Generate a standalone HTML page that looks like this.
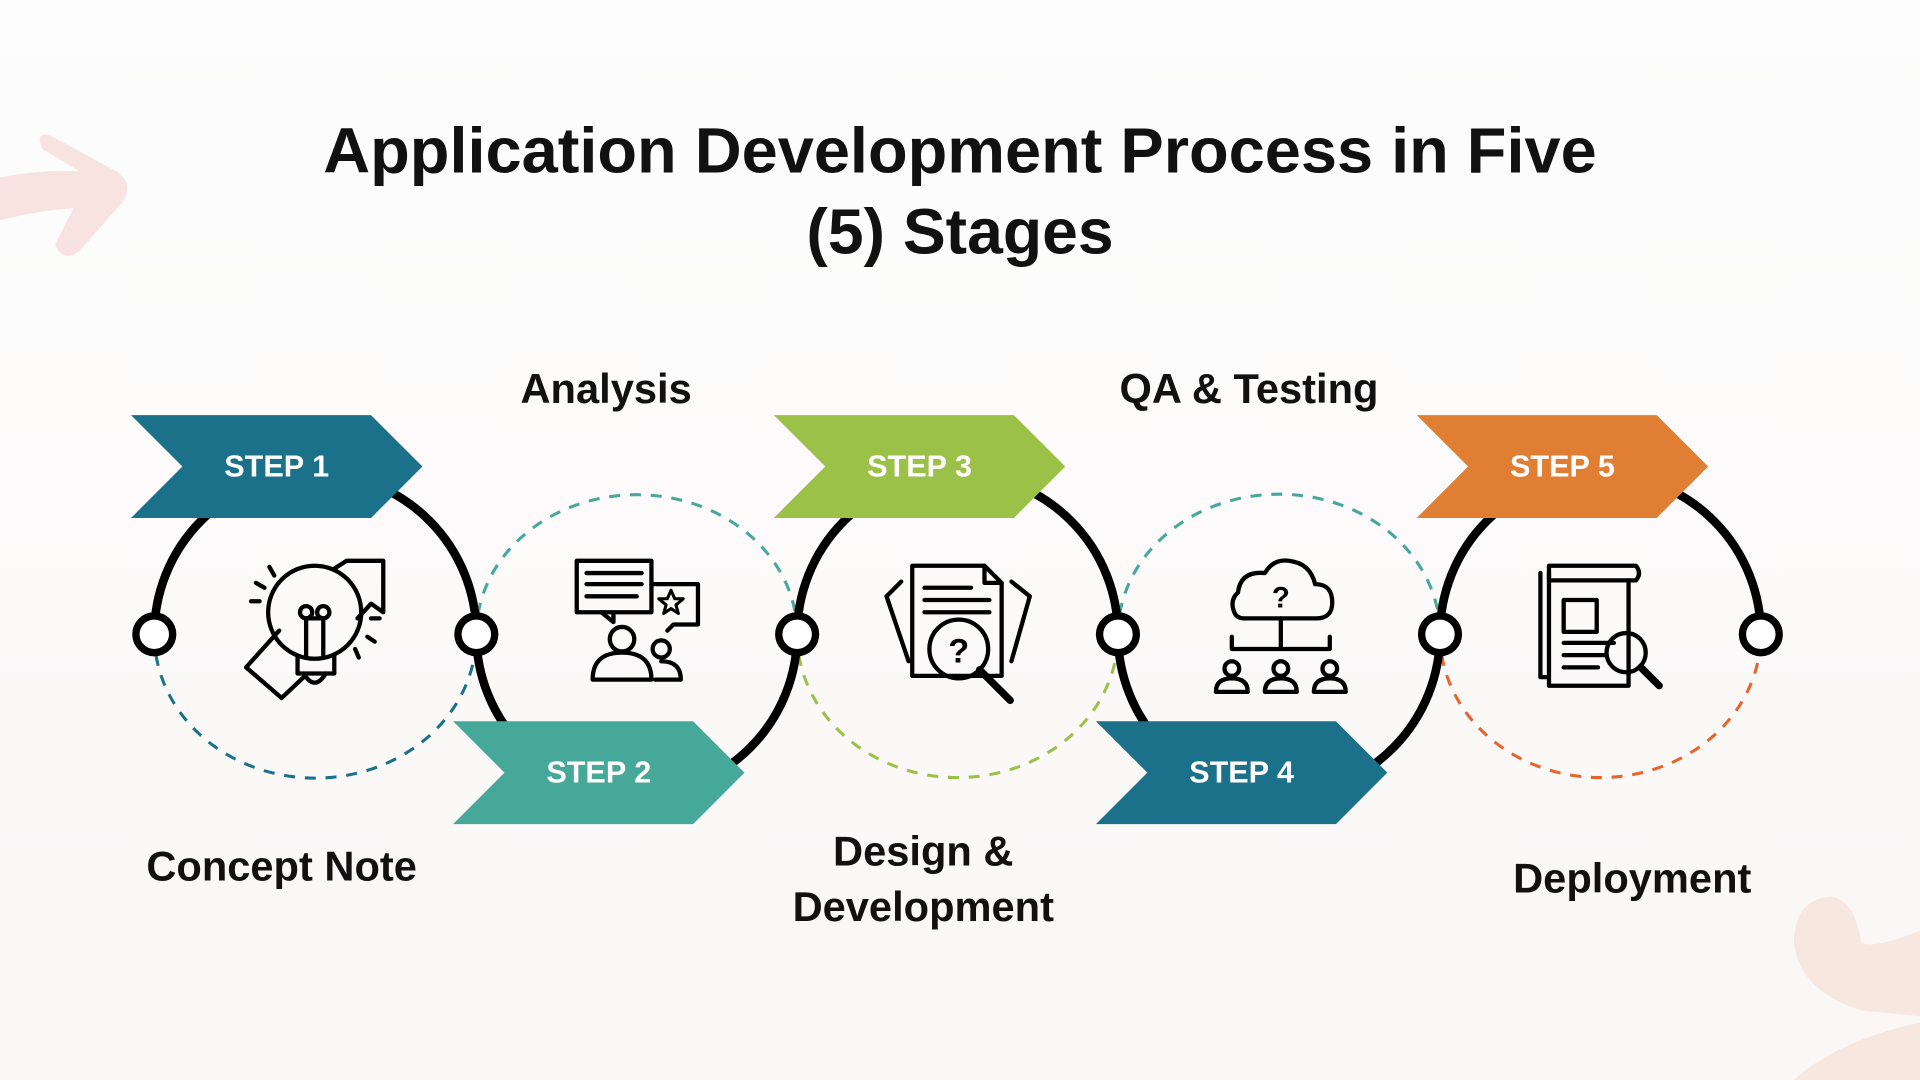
<!DOCTYPE html>
<html><head><meta charset="utf-8"><style>
html,body{margin:0;padding:0;width:1920px;height:1080px;overflow:hidden;background:#fcfbfb}
svg{display:block}
text{font-family:"Liberation Sans",Arial,sans-serif;font-weight:bold}
</style></head><body>
<svg width="1920" height="1080" viewBox="0 0 1568 882" xmlns="http://www.w3.org/2000/svg">
<defs><linearGradient id="bg" x1="0" y1="0" x2="0" y2="1"><stop offset="0" stop-color="#fdfdfd"/><stop offset="1" stop-color="#faf7f6"/></linearGradient></defs>
<rect width="1568" height="882" fill="url(#bg)"/>
<path d="M40 110 L95 140 Q110 150 100 165 L65 205 Q52 215 45 200 L60 170 Q30 172 0 180 L0 145 Q35 138 65 140 L35 122 Q28 108 40 110Z" fill="#f6dcd8" opacity="0.8"/>
<path d="M1568 760 Q1530 775 1520 770 Q1515 735 1495 732 Q1465 735 1465 770 Q1470 810 1520 825 L1568 830Z M1568 835 Q1500 850 1465 882 L1568 882Z" fill="#f7e8df"/>
<text x="784" y="141" font-size="52.5" text-anchor="middle" fill="#111" textLength="1040" lengthAdjust="spacingAndGlyphs">Application Development Process in Five</text>
<text x="784" y="207" font-size="52.5" text-anchor="middle" fill="#111">(5) Stages</text>
<g fill="none" stroke-width="2.5" stroke-dasharray="9 8">
<path d="M126 518 A131 117 0 0 0 389 518" stroke="#1b718a"/>
<path d="M389 518 A131 114 0 0 1 651 518" stroke="#46a898"/>
<path d="M651 518 A131 117 0 0 0 913 518" stroke="#9bc148"/>
<path d="M913 518 A131 114 0 0 1 1176 518" stroke="#46a898"/>
<path d="M1176 518 A131 117 0 0 0 1438 518" stroke="#e8642a"/>
</g>
<g fill="none" stroke="#000" stroke-width="7">
<path d="M126 518 A131 131 0 0 1 389 518"/>
<path d="M389 518 A131 131 0 0 0 651 518"/>
<path d="M651 518 A131 131 0 0 1 913 518"/>
<path d="M913 518 A131 131 0 0 0 1176 518"/>
<path d="M1176 518 A131 131 0 0 1 1438 518"/>
</g>
<g>
<path d="M107 339 H303 L345 381 L303 423 H107 L149 381Z" fill="#1b718a"/>
<path d="M370 589 H566 L608 631 L566 673 H370 L412 631Z" fill="#46a898"/>
<path d="M632 339 H828 L870 381 L828 423 H632 L674 381Z" fill="#9bc148"/>
<path d="M895 589 H1091 L1133 631 L1091 673 H895 L937 631Z" fill="#1b718a"/>
<path d="M1157 339 H1353 L1395 381 L1353 423 H1157 L1199 381Z" fill="#e07f33"/>
</g>
<g font-size="25" fill="#fff" text-anchor="middle">
<text x="226" y="389">STEP 1</text>
<text x="489" y="639">STEP 2</text>
<text x="751" y="389">STEP 3</text>
<text x="1014" y="639">STEP 4</text>
<text x="1276" y="389">STEP 5</text>
</g>
<g fill="#fff" stroke="#000" stroke-width="6">
<circle cx="126" cy="518" r="15"/><circle cx="389" cy="518" r="15"/><circle cx="651" cy="518" r="15"/>
<circle cx="913" cy="518" r="15"/><circle cx="1176" cy="518" r="15"/><circle cx="1438" cy="518" r="15"/>
</g>
<g font-size="34" fill="#111" text-anchor="middle">
<text x="495" y="329">Analysis</text>
<text x="1020" y="329">QA &amp; Testing</text>
<text x="230" y="719">Concept Note</text>
<text x="754" y="707">Design &amp;</text>
<text x="754" y="752">Development</text>
<text x="1333" y="729">Deployment</text>
</g>
<g fill="none" stroke="#000" stroke-width="3.5" stroke-linejoin="round" stroke-linecap="round">
<circle cx="257" cy="500" r="38"/>
<path d="M243 536 V550 H273 V536"/><path d="M248 550 Q257 565 266 550"/>
<path d="M250 537 V505 M264 537 V505"/><circle cx="250" cy="500" r="5"/><circle cx="264" cy="500" r="5"/><path d="M250 505 H264"/>
<path d="M272 465 L283 458 H313 V500 L303 493 L292 505"/>
<path d="M228 515 L201 545 L230 570 L248 553"/>
<path d="M220 463 L224 470 M209 476 L216 480 M205 491 H212 M303 505 H310 M300 520 L306 524 M290 530 L293 537"/>
<rect x="471" y="458" width="61" height="42"/><path d="M491 500 L501 508 V500"/>
<path d="M479 468 H524 M479 477 H524 M479 487 H520"/>
<path d="M532 477 H570 V510 H550 L545 515"/>
<path d="M548 482 L551 489 H558 L552 494 L554 501 L548 497 L542 501 L544 494 L538 489 H545Z" stroke-width="2.5"/>
<circle cx="508" cy="522" r="10"/><path d="M484 555 Q484 533 508 533 Q532 533 532 555Z"/>
<circle cx="540" cy="530" r="7"/><path d="M535 555 H556 Q556 540 540 540"/>
<path d="M745 462 H804 L818 476 V552 H745Z"/><path d="M804 462 V476 H818"/>
<path d="M736 475 L724 487 L742 540 M826 475 L841 487 L826 540"/>
<path d="M755 480 H793 M755 490 H808 M755 500 H808"/>
<circle cx="783" cy="530" r="24"/><path d="M800 547 L825 572" stroke-width="6"/>
<text x="783" y="541" font-size="28" fill="#000" stroke="none" text-anchor="middle">?</text>
<path d="M1016 505 H1075 Q1088 505 1088 492 Q1088 477 1074 477 Q1070 460 1053 458 Q1040 456 1033 468 Q1013 466 1011 484 Q1004 490 1008 500 Q1010 505 1016 505Z"/>
<text x="1046" y="496" font-size="24" fill="#000" stroke="none" text-anchor="middle">?</text>
<path d="M1046 505 V530 M1006 530 H1086 M1006 520 V530 M1086 520 V530"/>
<circle cx="1006" cy="546" r="6"/><path d="M993 565 Q993 554 1006 554 Q1019 554 1019 565Z"/>
<circle cx="1046" cy="546" r="6"/><path d="M1033 565 Q1033 554 1046 554 Q1059 554 1059 565Z"/>
<circle cx="1086" cy="546" r="6"/><path d="M1073 565 Q1073 554 1086 554 Q1099 554 1099 565Z"/>
<path d="M1265 462 H1336 Q1341 468 1336 474 H1265Z"/>
<path d="M1258 468 V553 H1265 M1265 468 V560 H1330 V474"/>
<rect x="1277" y="490" width="27" height="26"/>
<path d="M1277 525 H1318 M1277 535 H1310 M1277 545 H1305"/>
<circle cx="1328" cy="533" r="16"/><path d="M1340 545 L1355 560" stroke-width="6"/>
</g>
</svg>
</body></html>
